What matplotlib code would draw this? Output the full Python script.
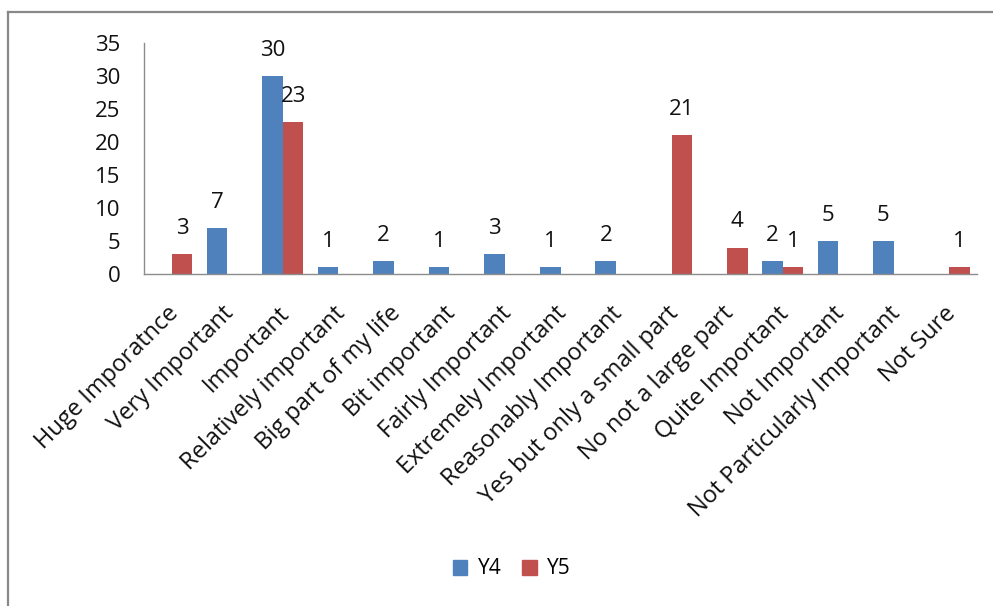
import numpy as np
import matplotlib
matplotlib.use("Agg")
import matplotlib.pyplot as plt
import matplotlib.transforms as mtransforms
from matplotlib.lines import Line2D
from matplotlib.patches import Patch

plt.rcParams["font.family"] = ["Open Sans", "DejaVu Sans"]

categories = [
    "Huge Imporatnce", "Very Important", "Important", "Relatively important",
    "Big part of my life", "Bit important", "Fairly Important",
    "Extremely Important", "Reasonably Important", "Yes but only a small part",
    "No not a large part", "Quite Important", "Not Important",
    "Not Particularly Important", "Not Sure",
]
y4 = [0, 7, 30, 1, 2, 1, 3, 1, 2, 0, 0, 2, 5, 5, 0]
y5 = [3, 0, 23, 0, 0, 0, 0, 0, 0, 21, 4, 1, 0, 0, 1]

BLUE = "#4F81BD"
RED = "#C0504D"
TEXT = "#111111"

fig = plt.figure(figsize=(9.93, 6.06), dpi=100)
ax = fig.add_axes([144 / 993, 1 - 274 / 606, (977 - 144) / 993, (274 - 43) / 606])

x = np.arange(len(categories))
w = 0.37
b4 = ax.bar(x - w / 2, y4, w, color=BLUE, label="Y4")
b5 = ax.bar(x + w / 2, y5, w, color=RED, label="Y5")

# value labels only on non-empty bars
for bars, vals in ((b4, y4), (b5, y5)):
    for rect, v in zip(bars, vals):
        if v:
            ax.annotate(str(v), (rect.get_x() + rect.get_width() / 2, v),
                        xytext=(0, 11), textcoords="offset points",
                        ha="center", va="bottom", fontsize=16, color=TEXT)

ax.set_xlim(-0.5, len(categories) - 0.5)
ax.set_ylim(0, 35)
ax.set_yticks(range(0, 36, 5))
ax.set_xticks(x)
ax.set_xticklabels(categories, rotation=45, ha="right", va="top",
                   rotation_mode="anchor", fontsize=17, color=TEXT)
ax.tick_params(axis="y", length=0, labelsize=16, colors=TEXT, pad=17)
ax.tick_params(axis="x", length=0, pad=20)

# nudge the rotated category labels slightly left
shift = mtransforms.ScaledTranslation(-4 / 72, 0, fig.dpi_scale_trans)
for lbl in ax.get_xticklabels():
    lbl.set_transform(lbl.get_transform() + shift)

for side in ("top", "right"):
    ax.spines[side].set_visible(False)
for side in ("left", "bottom"):
    ax.spines[side].set_color("#8c8c8c")
    ax.spines[side].set_linewidth(1.0)

handles = [Patch(color=BLUE, label="Y4"), Patch(color=RED, label="Y5")]
fig.legend(handles=handles, loc="center", bbox_to_anchor=(512 / 993, 1 - 569 / 606),
           ncol=2, frameon=False, fontsize=15, handlelength=0.7, handleheight=0.7,
           handletextpad=0.5, columnspacing=1.0)

# outer chart border (top and left edges)
fig.add_artist(Line2D([8 / 993, 1.0], [1 - 12 / 606, 1 - 12 / 606],
                      transform=fig.transFigure, color="#888888", lw=1.6))
fig.add_artist(Line2D([8 / 993, 8 / 993], [1 - 12 / 606, 0.0],
                      transform=fig.transFigure, color="#888888", lw=1.6))

fig.savefig("out.png", dpi=100)
